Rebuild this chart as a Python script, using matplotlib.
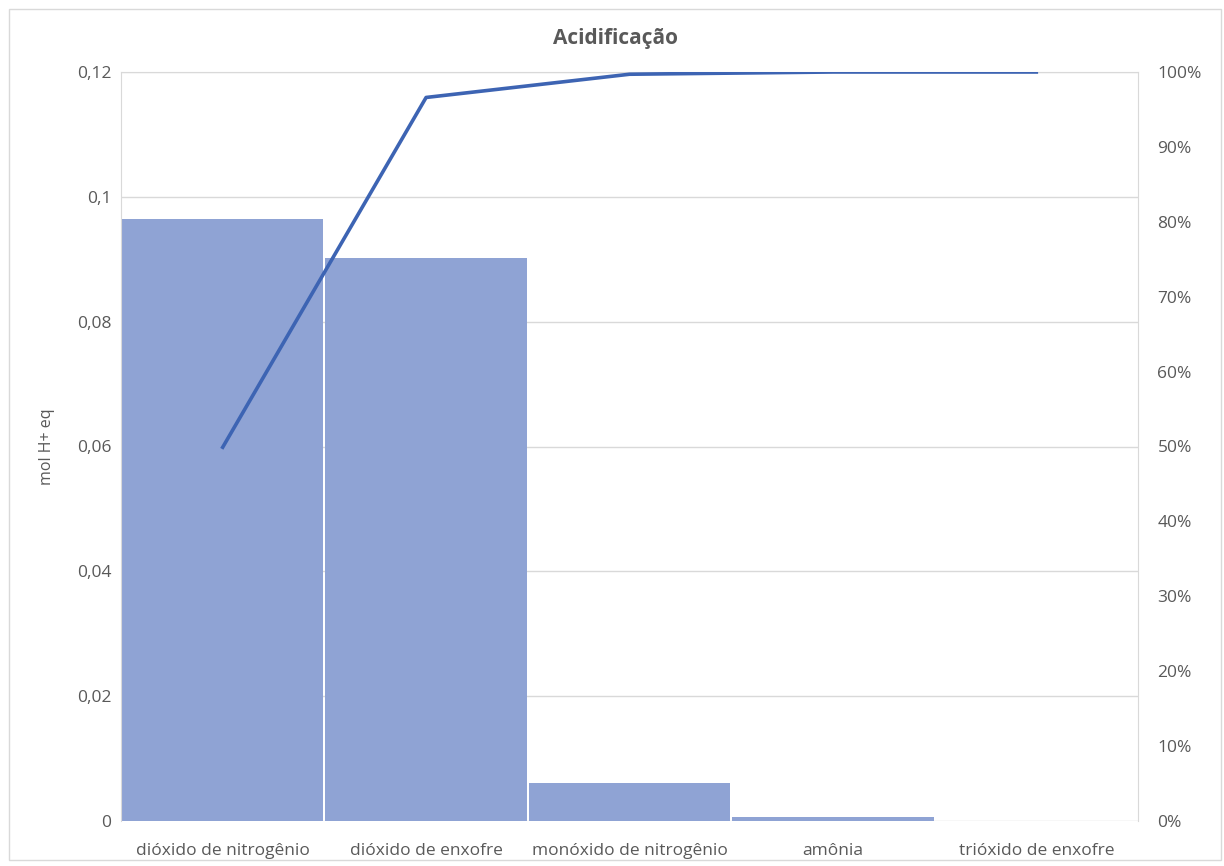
import numpy as np
import matplotlib.pyplot as plt
from matplotlib.patches import Rectangle
from matplotlib.ticker import FuncFormatter, MultipleLocator

categories = ['dióxido de nitrogênio', 'dióxido de enxofre', 'monóxido de nitrogênio',
              'amônia', 'trióxido de enxofre']
values = [0.0964, 0.0902, 0.0061, 0.0006, 0.00002]
cumulative_pct = [49.9, 96.6, 99.7, 100.0, 100.0]

plt.rcParams['font.family'] = ['Open Sans', 'DejaVu Sans']
grey = '#595959'

fig = plt.figure(figsize=(12.24, 8.66), dpi=100)
fig.patches.append(Rectangle((9 / 1224, 6 / 866), 1212 / 1224, 851 / 866,
                             transform=fig.transFigure, fill=False,
                             edgecolor='#d9d9d9', linewidth=1))

ax = fig.add_axes([121 / 1224, 1 - 821 / 866, 1017 / 1224, 749 / 866])
x = np.arange(len(categories))
ax.bar(x, values, width=0.99, color='#8fa3d4', linewidth=0, zorder=2)
ax.set_xlim(-0.5, len(categories) - 0.5)
ax.set_ylim(0, 0.12)
ax.yaxis.set_major_locator(MultipleLocator(0.02))
ax.yaxis.set_major_formatter(FuncFormatter(
    lambda v, p: '0' if v == 0 else ('%g' % round(v, 2)).replace('.', ',')))
ax.grid(axis='y', color='#d9d9d9', linewidth=1, zorder=0)
ax.set_xticks(x)
ax.set_xticklabels(categories)
ax.tick_params(length=0, colors=grey, labelsize=12.5, pad=7)
ax.tick_params(axis='x', pad=16)
for s in ax.spines.values():
    s.set_color('#d9d9d9')
ax.spines['bottom'].set_visible(False)
ax.set_ylabel('mol H+ eq', color=grey, fontsize=11.5, labelpad=16)
fig.text(0.503, 0.956, 'Acidificação', fontsize=15, fontweight='bold',
         color=grey, ha='center', va='center')

ax2 = ax.twinx()
ax2.plot(x, cumulative_pct, color='#3d64b3', linewidth=2.6, zorder=3)
ax2.set_ylim(0, 100)
ax2.yaxis.set_major_locator(MultipleLocator(10))
ax2.yaxis.set_major_formatter(FuncFormatter(lambda v, p: '%d%%' % v))
ax2.tick_params(length=0, colors=grey, labelsize=12.5, pad=14)
for s in ax2.spines.values():
    s.set_visible(False)

fig.savefig('out.png', dpi=100)
